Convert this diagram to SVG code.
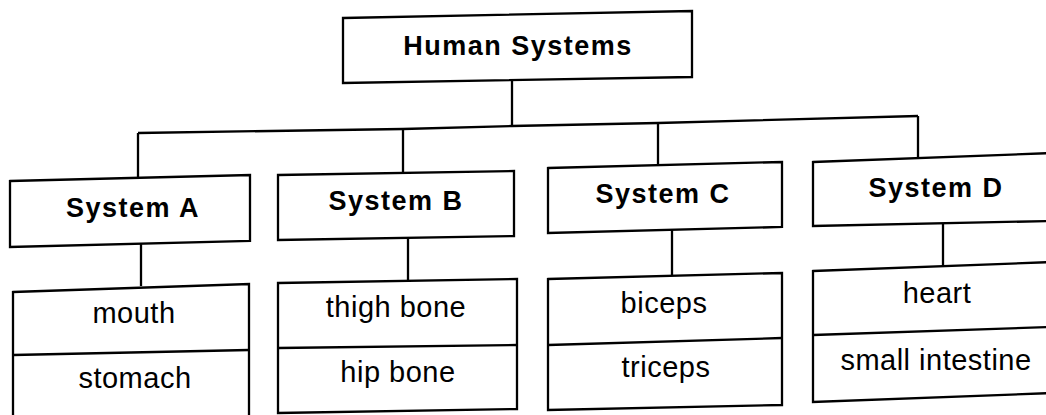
<svg xmlns="http://www.w3.org/2000/svg" width="1046" height="415" viewBox="0 0 1046 415">
<style>
.box{fill:#fff;stroke:#000;stroke-width:2.3;stroke-linejoin:miter}
.ln{fill:none;stroke:#000;stroke-width:2.3}
.h{font-family:"Liberation Sans",Arial,sans-serif;font-weight:bold;font-size:27px;letter-spacing:1.5px;text-anchor:middle;fill:#000}
.t{font-family:"Liberation Sans",Arial,sans-serif;font-size:29px;letter-spacing:0.5px;text-anchor:middle;fill:#000}
</style>
<rect width="1046" height="415" fill="#fff"/>
<g id="connectors">
<line class="ln" x1="512" y1="78" x2="512" y2="127"/>
<polyline class="ln" points="138,133 403,129 512,126 658,123 918,116"/>
<line class="ln" x1="138" y1="133" x2="138" y2="178"/>
<line class="ln" x1="403" y1="129" x2="403" y2="172"/>
<line class="ln" x1="658" y1="123" x2="658" y2="165"/>
<line class="ln" x1="918" y1="116" x2="918" y2="157"/>
<line class="ln" x1="141" y1="244" x2="141" y2="286"/>
<line class="ln" x1="408" y1="238" x2="408" y2="280"/>
<line class="ln" x1="672" y1="230" x2="672" y2="275"/>
<line class="ln" x1="943" y1="224" x2="943" y2="266"/>
</g>
<g id="human-systems">
<polygon class="box" points="343,18 692,11 692,77 343,83"/>
<text class="h" x="518" y="55">Human Systems</text>
</g>
<g id="system-a">
<polygon class="box" points="10,181 250,175 250,241 10,247"/>
<text class="h" x="133" y="217">System A</text>
</g>
<g id="system-b">
<polygon class="box" points="278,175 514,171 514,236 278,240"/>
<text class="h" x="396" y="210">System B</text>
</g>
<g id="system-c">
<polygon class="box" points="548,168 782,162 782,227 548,233"/>
<text class="h" x="663" y="203">System C</text>
</g>
<g id="system-d">
<polygon class="box" points="813,162 1052,153 1052,221 813,226"/>
<text class="h" x="936" y="197">System D</text>
</g>
<g id="list-a">
<polygon class="box" points="13,292 249,284 249,420 13,420"/>
<line class="ln" x1="13" y1="355" x2="249" y2="350"/>
<text class="t" x="134" y="323">mouth</text>
<text class="t" x="135" y="388">stomach</text>
</g>
<g id="list-b">
<polygon class="box" points="278,283 517,279 517,409 278,413"/>
<line class="ln" x1="278" y1="348" x2="517" y2="345"/>
<text class="t" x="396" y="317">thigh bone</text>
<text class="t" x="398" y="382">hip bone</text>
</g>
<g id="list-c">
<polygon class="box" points="548,279 782,273 782,405 548,410"/>
<line class="ln" x1="548" y1="345" x2="782" y2="338"/>
<text class="t" x="664" y="313">biceps</text>
<text class="t" x="666" y="377">triceps</text>
</g>
<g id="list-d">
<polygon class="box" points="813,271 1052,262 1052,393 813,402"/>
<line class="ln" x1="813" y1="335" x2="1052" y2="327"/>
<text class="t" x="937" y="303">heart</text>
<text class="t" x="936" y="370">small intestine</text>
</g>
</svg>
